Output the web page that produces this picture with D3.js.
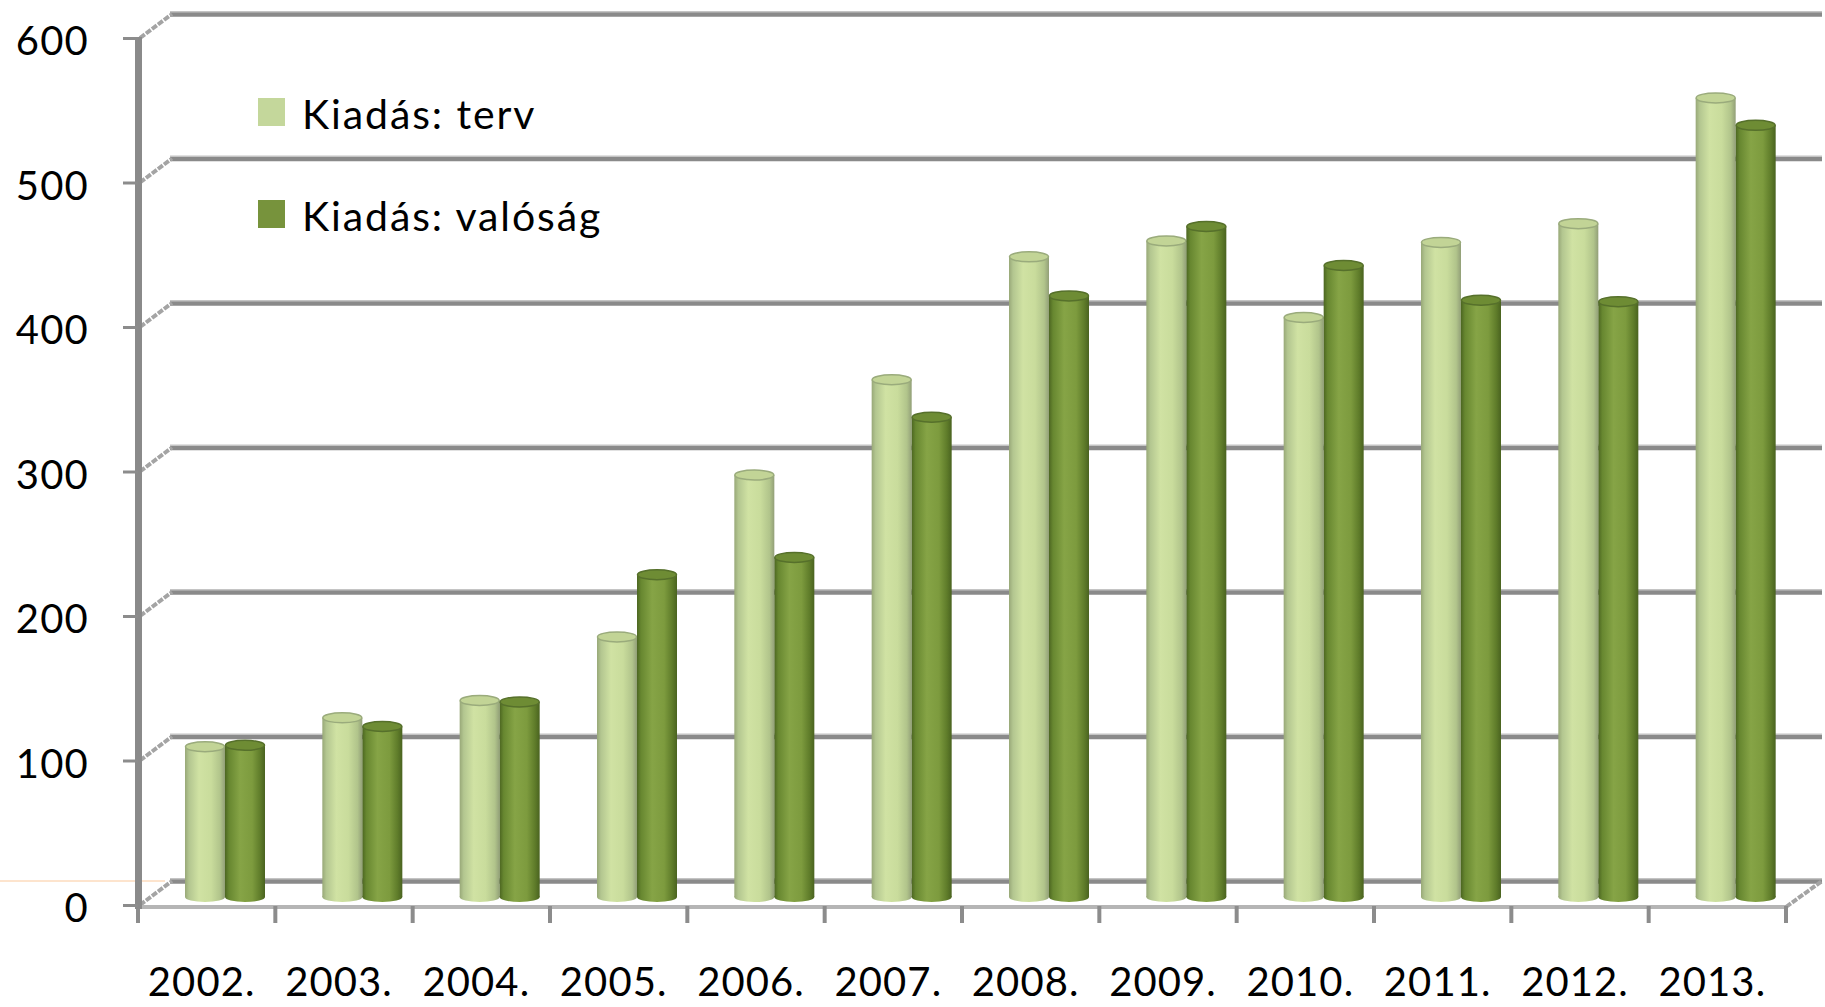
<!DOCTYPE html>
<html>
<head>
<meta charset="utf-8">
<script src="https://cdn.jsdelivr.net/npm/d3@7"></script>
<style>
  html, body { margin: 0; padding: 0; background: #fff; }
  svg { display: block; }
  text { font-family: Lato, "Open Sans", sans-serif; fill: #000; }
</style>
</head>
<body>
<div id="chart"></div>
<script>
// ----- data
const years = ["2002.", "2003.", "2004.", "2005.", "2006.", "2007.",
               "2008.", "2009.", "2010.", "2011.", "2012.", "2013."];
const terv    = [104, 124, 136, 180, 292, 358, 443, 454, 401, 453, 466, 553];
const valosag = [105, 118, 135, 223, 235, 332, 416, 464, 437, 413, 412, 534];
const seriesNames = ["Kiadás: terv", "Kiadás: valóság"];
const yTicks = [0, 100, 200, 300, 400, 500, 600];

// ----- layout
const W = 1825, H = 1007;
const depth = { dx: 32, dy: -24 };   // back wall offset
const barShift = 3;                  // bars sit mid-depth

const svg = d3.select("#chart").append("svg")
  .attr("width", W).attr("height", H);

const x = d3.scaleBand().domain(years).range([138, 1786]).padding(0);
const yFront = d3.scaleLinear().domain([0, 600]).range([905, 38]);
const yBack = v => yFront(v) + depth.dy;
const yBar = d3.scaleLinear().domain([0, 600]).range([897, 30]);
const inner = d3.scaleBand().domain(seriesNames).range([44, 124]);

// gradients for the cylinders
const defs = svg.append("defs");
function cylGrad(id, stops) {
  const g = defs.append("linearGradient").attr("id", id)
    .attr("x1", "0%").attr("x2", "100%").attr("y1", "0%").attr("y2", "0%");
  stops.forEach(s => g.append("stop").attr("offset", s[0]).attr("stop-color", s[1]));
}
cylGrad("gLight", [["0%", "#98a878"], ["10%", "#b3c690"], ["35%", "#d0e2a3"],
                   ["65%", "#c9dc9c"], ["88%", "#b1c48b"], ["100%", "#929f78"]]);
cylGrad("gDark", [["0%", "#4c6621"], ["10%", "#678730"], ["38%", "#86a446"],
                  ["68%", "#7d9b3e"], ["88%", "#5f7c2a"], ["100%", "#4a6320"]]);
const colors = {
  "Kiadás: terv":    { grad: "url(#gLight)", top: "#c2d496", rim: "#9aab7c", legend: "#c4d79b" },
  "Kiadás: valóság": { grad: "url(#gDark)",  top: "#6e8c34", rim: "#56702b", legend: "#77933c" }
};

// faint orange line at the left edge
svg.append("line")
  .attr("x1", 0).attr("x2", 165)
  .attr("y1", yBack(0)).attr("y2", yBack(0))
  .attr("stroke", "#fbc99c").attr("stroke-width", 1);

// back wall gridlines
const grid = svg.append("g");
yTicks.forEach(v => {
  grid.append("line")
    .attr("x1", 138 + depth.dx).attr("x2", 1822)
    .attr("y1", yBack(v)).attr("y2", yBack(v))
    .attr("stroke", "#c4c4c4").attr("stroke-width", 6);
  grid.append("line")
    .attr("x1", 138 + depth.dx).attr("x2", 1822)
    .attr("y1", yBack(v) + 0.5).attr("y2", yBack(v) + 0.5)
    .attr("stroke", "#8a8a8a").attr("stroke-width", 4);
  // side wall diagonals
  grid.append("line")
    .attr("x1", 140).attr("y1", yFront(v))
    .attr("x2", 138 + depth.dx + 2).attr("y2", yBack(v))
    .attr("stroke", "#a4a4a4").attr("stroke-width", 4)
    .attr("stroke-dasharray", "6,1.5");
});

// floor front edge and right diagonal
svg.append("line")
  .attr("x1", 138).attr("x2", 1786)
  .attr("y1", 907).attr("y2", 907)
  .attr("stroke", "#b5b5b5").attr("stroke-width", 4);
svg.append("line")
  .attr("x1", 1786).attr("y1", 907)
  .attr("x2", 1786 + depth.dx + 4).attr("y2", yBack(0))
  .attr("stroke", "#a4a4a4").attr("stroke-width", 4)
  .attr("stroke-dasharray", "6,1.5");

// x ticks at category boundaries
svg.append("g").selectAll("line")
  .data(years.concat(["end"]))
  .join("line")
    .attr("x1", (d, i) => i < years.length ? x(d) : x.range()[1])
    .attr("x2", (d, i) => i < years.length ? x(d) : x.range()[1])
    .attr("y1", 906).attr("y2", 923)
    .attr("stroke", "#8c8c8c").attr("stroke-width", 4);

// y axis
svg.append("line")
  .attr("x1", 138.5).attr("x2", 138.5)
  .attr("y1", yFront(600) - 1).attr("y2", 909)
  .attr("stroke", "#8a8a8a").attr("stroke-width", 7);

const yAxis = d3.axisLeft(yFront)
  .tickValues(yTicks)
  .tickSize(15)
  .tickPadding(34)
  .tickFormat(d3.format("d"));
svg.append("g")
  .attr("transform", "translate(138,0)")
  .call(yAxis)
  .call(g => g.select(".domain").remove())
  .call(g => g.selectAll(".tick line").attr("stroke", "#8c8c8c").attr("stroke-width", 3))
  .call(g => g.selectAll(".tick text")
    .attr("font-size", 40)
    .attr("letter-spacing", "1.2px")
    .attr("dy", "0.42em")
    .style("font-family", "Lato, 'Open Sans', sans-serif")
    .attr("fill", "#000"));

// x labels
const xAxis = d3.axisBottom(x).tickSize(0).tickPadding(62);
svg.append("g")
  .attr("transform", "translate(-5,906)")
  .call(xAxis)
  .call(g => g.select(".domain").remove())
  .call(g => g.selectAll(".tick text")
    .attr("font-size", 40)
    .attr("letter-spacing", "1.1px")
    .style("font-family", "Lato, 'Open Sans', sans-serif")
    .attr("fill", "#000"));

// ----- bars (cylinders)
const rows = years.map((yr, i) => ({ year: yr, values: [terv[i], valosag[i]] }));
const ry = 5;
const bars = svg.append("g");
rows.forEach(r => {
  seriesNames.forEach((s, j) => {
    const v = r.values[j];
    const x0 = x(r.year) + inner(s) + barShift;
    const w = inner.bandwidth();
    const top = yBar(v), bot = yBar(0);
    const c = colors[s];
    const g = bars.append("g");
    g.append("ellipse")
      .attr("cx", x0 + w / 2).attr("cy", bot)
      .attr("rx", w / 2).attr("ry", ry)
      .attr("fill", c.grad);
    g.append("rect")
      .attr("x", x0).attr("y", top)
      .attr("width", w).attr("height", bot - top)
      .attr("fill", c.grad);
    g.append("ellipse")
      .attr("cx", x0 + w / 2).attr("cy", top)
      .attr("rx", w / 2 - 0.5).attr("ry", ry)
      .attr("fill", c.top)
      .attr("stroke", c.rim).attr("stroke-width", 1.5);
  });
});

// ----- legend
const legend = svg.append("g");
seriesNames.forEach((s, i) => {
  const ly = 98 + i * 102;
  legend.append("rect")
    .attr("x", 258).attr("y", ly)
    .attr("width", 27).attr("height", 28)
    .attr("fill", colors[s].legend);
  legend.append("text")
    .attr("x", 302).attr("y", ly + 31)
    .attr("font-size", 41)
    .attr("letter-spacing", "1.9px")
    .text(s);
});
</script>
</body>
</html>
